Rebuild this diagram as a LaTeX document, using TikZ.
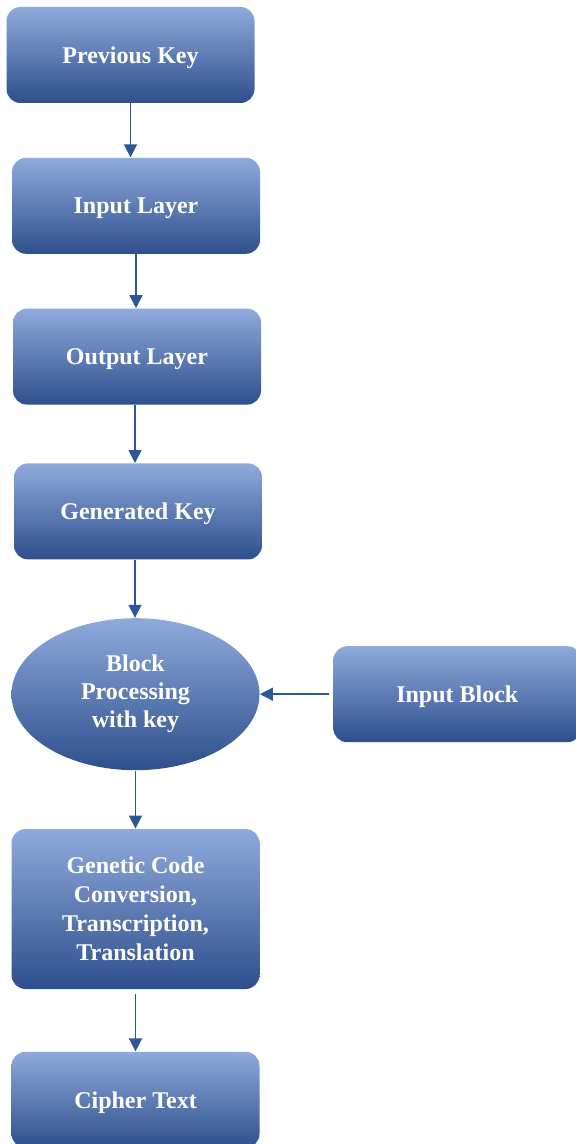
\documentclass[tikz,border=0pt]{standalone}
\usepackage{fontspec}
\setmainfont{Liberation Serif}
\usepackage{xcolor}
\usepackage{tikz}
\usetikzlibrary{arrows.meta,positioning,shapes.geometric}

\definecolor{boxtop}{HTML}{8FAADC}
\definecolor{boxmid}{HTML}{4673C6}
\definecolor{boxbot}{HTML}{2E4F8C}
\definecolor{arrowblue}{HTML}{2F5597}

\begin{document}
\begin{tikzpicture}[
    node distance=27pt,
    stage/.style={
        rounded corners=7pt,
        top color=boxtop,
        middle color=boxmid,
        bottom color=boxbot,
        text=white,
        font=\fontsize{12}{14.5}\selectfont\bfseries,
        minimum width=124pt,
        minimum height=48pt,
        text depth=0pt,
        align=center
    },
    oval/.style={
        ellipse,
        top color=boxtop,
        middle color=boxmid,
        bottom color=boxbot,
        text=white,
        font=\fontsize{12}{14}\selectfont\bfseries,
        minimum width=124pt,
        minimum height=76pt,
        inner sep=0pt,
        align=center
    },
    arrow/.style={-{Triangle[length=6.5pt,width=6.5pt]}, line width=0.75pt, draw=arrowblue}
]
\useasboundingbox (0,0) rectangle (288pt,-572pt);

\node[stage] (prev) at (65.25pt,-27.5pt) {Previous Key};
\node[stage, below=27pt of prev, xshift=2.75pt] (inlayer) {Input Layer};
\node[stage, below=27pt of inlayer, xshift=0.5pt] (outlayer) {Output Layer};
\node[stage, below=29pt of outlayer, xshift=0.5pt] (genkey) {Generated Key};
\node[oval, below=29pt of genkey, xshift=-1.25pt] (blockproc) {Block\\Processing\\with key};
\node[stage, right=36.5pt of blockproc] (inblock) {Input Block};
\node[stage, below=29pt of blockproc, minimum height=80pt] (genetic) {Genetic Code\\Conversion,\\Transcription,\\Translation};
\node[stage, below=31pt of genetic] (cipher) {Cipher Text};

\draw[arrow] (prev.south) -- (prev.south |- inlayer.north);
\draw[arrow] (inlayer.south) -- (inlayer.south |- outlayer.north);
\draw[arrow] ([xshift=-1pt]outlayer.south) -- ([xshift=-1pt]outlayer.south |- genkey.north);
\draw[arrow] ([xshift=-1.5pt]genkey.south) -- ([xshift=-1.5pt]genkey.south |- blockproc.north);
\draw[arrow, shorten <=2pt] (inblock) -- (blockproc);
\draw[arrow] (blockproc) -- (genetic);
\draw[arrow, shorten <=2.5pt] (genetic) -- (cipher);
\end{tikzpicture}
\end{document}
